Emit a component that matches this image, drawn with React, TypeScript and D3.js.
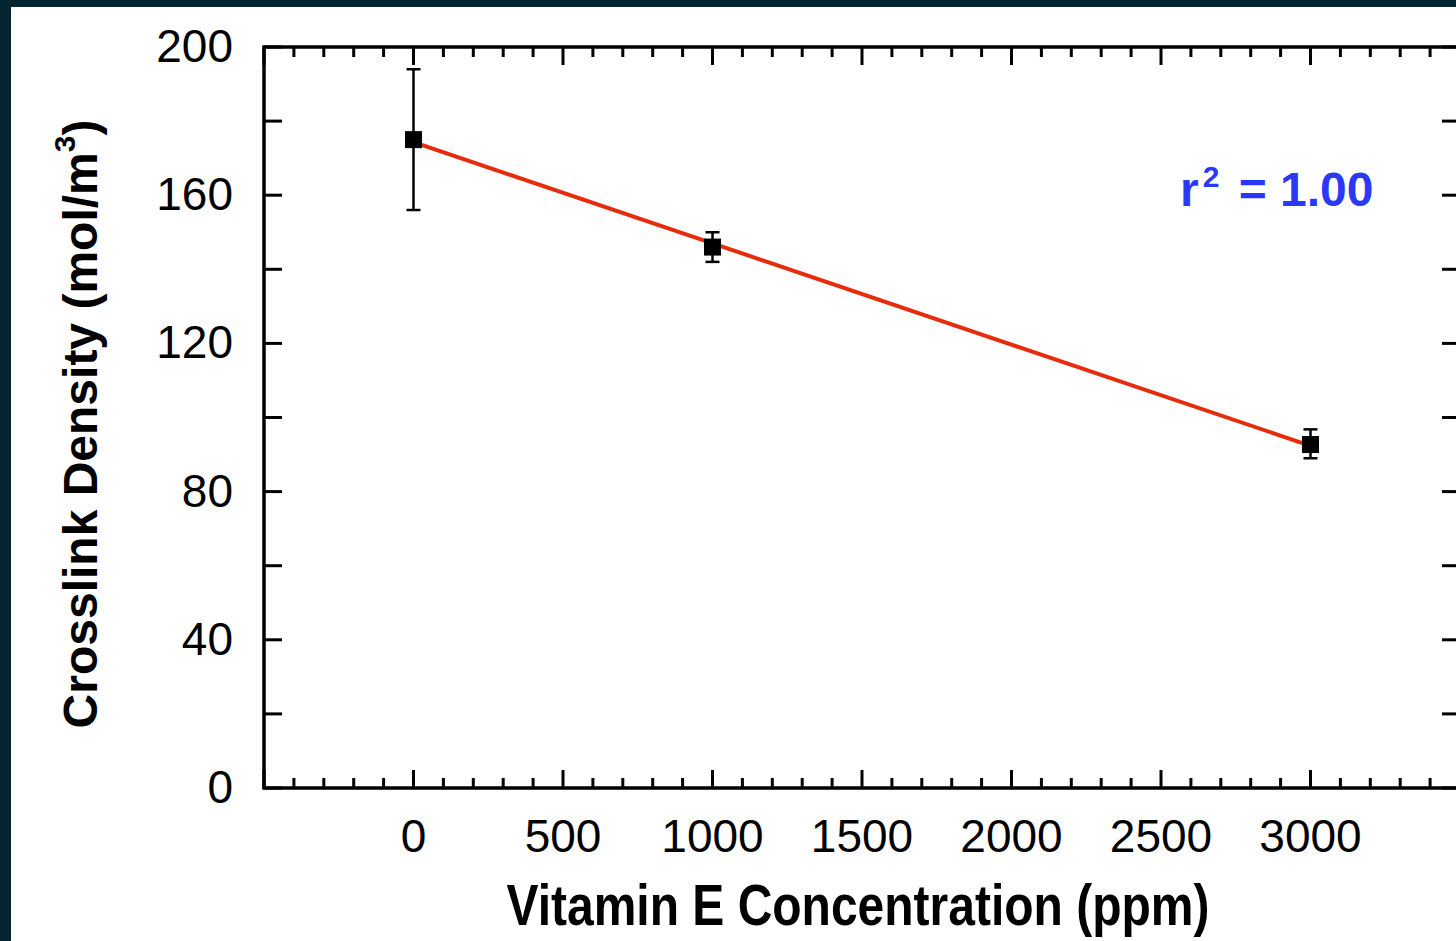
import React from 'react';
import * as d3 from 'd3';

// measured points (Vitamin E ppm vs crosslink density)
const concentrations = [0, 1000, 3000];
const density = [175, 146, 92.7];
const errLow = [156, 142, 89];
const errHigh = [194, 150, 96.8];

const yTickLabels = [0, 40, 80, 120, 160, 200];
const xTickLabels = [0, 500, 1000, 1500, 2000, 2500, 3000];
const fitLabel = '1.00';

const W = 1456;
const H = 941;
const frame = { left: 264, right: 1460, top: 47, bottom: 788 };

const App = () => {
  const x = d3.scaleLinear().domain([-500, 3500]).range([frame.left, frame.right]);
  const y = d3.scaleLinear().domain([0, 200]).range([frame.bottom, frame.top]);

  // least squares line through the three points
  const mx = d3.mean(concentrations)!;
  const my = d3.mean(density)!;
  const sxy = d3.sum(concentrations, (c, i) => (c - mx) * (density[i] - my));
  const sxx = d3.sum(concentrations, c => (c - mx) ** 2);
  const slope = sxy / sxx;
  const icpt = my - slope * mx;
  const xExt = d3.extent(concentrations) as [number, number];
  const fitLine = d3.line<number>().x(d => x(d)).y(d => y(icpt + slope * d));

  const xMinor = d3.range(-500, 3501, 100);
  const yMinor = d3.range(0, 201, 20);
  const font = 'Liberation Sans, Arial, Helvetica, sans-serif';
  const stroke = '#000';

  return (
    <div style={{ position: 'fixed', left: 0, top: 0 }}>
      <svg width={W} height={H} style={{ display: 'block' }}>
        <rect x={0} y={0} width={W} height={H} fill="#04242f" />
        <rect x={11} y={7} width={W} height={H} fill="#fff" />

        {/* frame */}
        <rect x={frame.left} y={frame.top} width={frame.right - frame.left} height={frame.bottom - frame.top}
          fill="none" stroke={stroke} strokeWidth={3.5} />

        {/* x ticks bottom and top */}
        {xMinor.map(v => {
          const major = v % 500 === 0;
          const len = major ? 18 : 10;
          return (
            <g key={'xt' + v}>
              <line x1={x(v)} x2={x(v)} y1={frame.bottom} y2={frame.bottom - len} stroke={stroke} strokeWidth={3} />
              <line x1={x(v)} x2={x(v)} y1={frame.top} y2={frame.top + len} stroke={stroke} strokeWidth={3} />
            </g>
          );
        })}
        {/* y ticks left and right */}
        {yMinor.map(v => (
          <g key={'yt' + v}>
            <line x1={frame.left} x2={frame.left + 18} y1={y(v)} y2={y(v)} stroke={stroke} strokeWidth={3} />
            <line x1={frame.right} x2={frame.right - 18} y1={y(v)} y2={y(v)} stroke={stroke} strokeWidth={3} />
          </g>
        ))}

        {/* tick labels */}
        {yTickLabels.map(v => (
          <text key={'yl' + v} x={233} y={y(v) + 15} textAnchor="end" fontFamily={font} fontSize={46}>{v}</text>
        ))}
        {xTickLabels.map(v => (
          <text key={'xl' + v} x={x(v)} y={852} textAnchor="middle" fontFamily={font} fontSize={46}>{v}</text>
        ))}

        {/* fit */}
        <path d={fitLine(xExt)!} stroke="#e62c0c" strokeWidth={4} fill="none" />

        {/* error bars + markers */}
        {concentrations.map((c, i) => (
          <g key={'pt' + c}>
            <line x1={x(c)} x2={x(c)} y1={y(errLow[i])} y2={y(errHigh[i])} stroke={stroke} strokeWidth={2.5} />
            <line x1={x(c) - 7} x2={x(c) + 7} y1={y(errLow[i])} y2={y(errLow[i])} stroke={stroke} strokeWidth={2.5} />
            <line x1={x(c) - 7} x2={x(c) + 7} y1={y(errHigh[i])} y2={y(errHigh[i])} stroke={stroke} strokeWidth={2.5} />
            <rect x={x(c) - 8.5} y={y(density[i]) - 8.5} width={17} height={17} fill={stroke} />
          </g>
        ))}

        {/* r squared annotation */}
        <text x={1180} y={206} fontFamily={font} fontSize={48} fontWeight="bold" fill="#2b38f8">
          r<tspan fontSize={30} dx={4} dy={-19}>2</tspan><tspan dx={6} dy={19}> = {fitLabel}</tspan>
        </text>

        {/* axis titles */}
        <text x={858} y={925} textAnchor="middle" fontFamily={font} fontSize={57} fontWeight="bold"
          textLength={703} lengthAdjust="spacingAndGlyphs">Vitamin E Concentration (ppm)</text>
        <text transform="translate(97,424) rotate(-90)" textAnchor="middle" fontFamily={font} fontSize={48} fontWeight="bold">
          Crosslink Density (mol/m<tspan fontSize={30} dy={-22}>3</tspan><tspan dy={22}>)</tspan>
        </text>
      </svg>
    </div>
  );
};

export default App;
